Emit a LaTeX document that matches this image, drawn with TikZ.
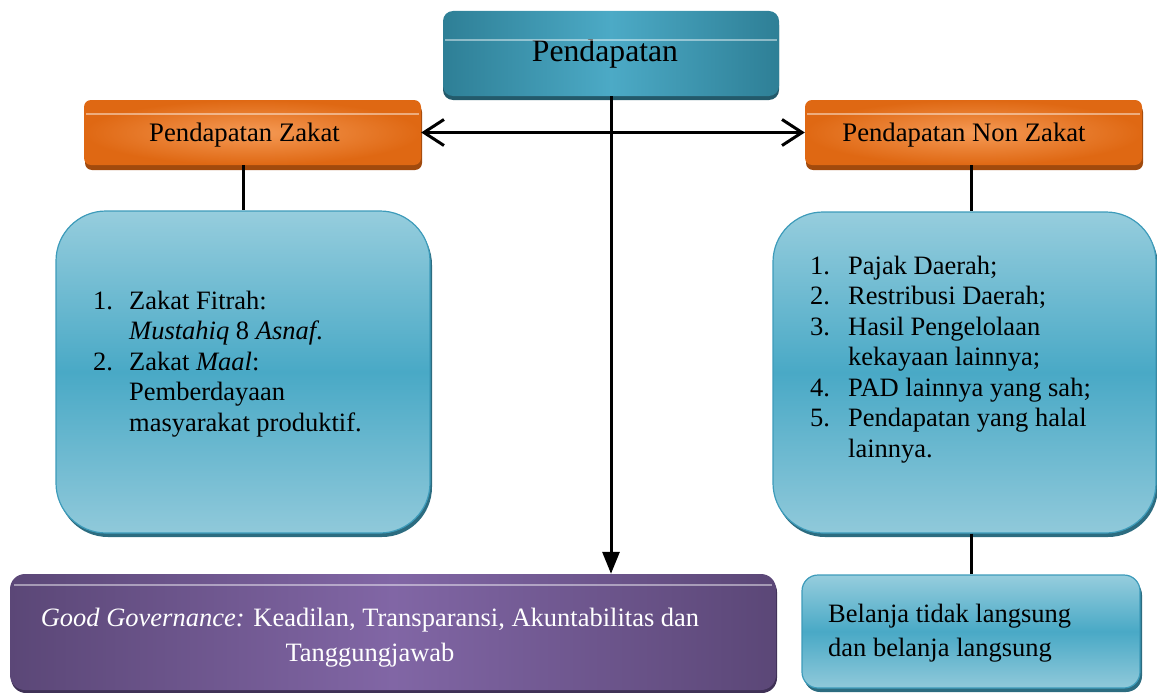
\documentclass[tikz,border=0pt]{standalone}
\usepackage{fontspec}
\setmainfont{Liberation Serif}
\usetikzlibrary{arrows.meta,shadows}
\definecolor{tealD}{HTML}{2E7F96}
\definecolor{tealL}{HTML}{4CAAC6}
\definecolor{tealS}{HTML}{235A6B}
\definecolor{orD}{HTML}{DF6813}
\definecolor{orL}{HTML}{F59A55}
\definecolor{orS}{HTML}{A14A0D}
\definecolor{lbT}{HTML}{96CDDD}
\definecolor{lbM}{HTML}{49A9C6}
\definecolor{lbB}{HTML}{90C9DA}
\definecolor{lbE}{HTML}{3D9BBA}
\definecolor{lbS}{HTML}{2C6C80}
\definecolor{puD}{HTML}{5B4777}
\definecolor{puL}{HTML}{8166A5}
\definecolor{puS}{HTML}{3F3156}
\tikzset{
  conn/.style={line width=3pt, black},
  boxbase/.style={rectangle, inner sep=0pt, draw=none},
  tealbox/.style={boxbase, rounded corners=10pt, left color=tealD, right color=tealD, middle color=tealL,
     general shadow={fill=tealS, shadow yshift=-4pt}, font=\fontsize{31.7}{36}\selectfont},
  orbox/.style={boxbase, rounded corners=7pt, inner color=orL, outer color=orD, text depth=0pt,
     general shadow={fill=orS, shadow yshift=-5pt, shadow xshift=1pt}, font=\fontsize{26.7}{30}\selectfont},
  lbbox/.style={boxbase, draw=lbE, line width=1.2pt, top color=lbT, bottom color=lbB, middle color=lbM,
     general shadow={fill=lbS, shadow yshift=-4pt, shadow xshift=2pt}},
  pubox/.style={boxbase, rounded corners=15pt, left color=puD, right color=puD, middle color=puL,
     general shadow={fill=puS, shadow yshift=-3pt, shadow xshift=1pt}},
  gloss/.style={white, opacity=.45, line width=1.4pt},
  listtext/.style={inner sep=0pt, font=\fontsize{26.5}{30.5}\selectfont},
}
\begin{document}
\begin{tikzpicture}[x=1pt,y=-1pt]
\useasboundingbox (0,0) rectangle (1157,693);
% boxes
\node[tealbox, minimum width=336pt, minimum height=85pt] (top) at (611,53.5) {Pendapatan\hspace*{12pt}};
\draw[gloss] (445,40) -- (777,40);
\node[orbox, minimum width=337pt, minimum height=65pt] (zl) at (252.5,132.5) {Pendapatan Zakat\hspace*{16pt}};
\draw[gloss] (86,114) -- (419,114);
\node[orbox, minimum width=337pt, minimum height=65pt] (znl) at (973.5,132.5) {Pendapatan Non Zakat\hspace*{19pt}};
\draw[gloss] (807,114) -- (1140,114);
\node[lbbox, rounded corners=50pt, minimum width=374pt, minimum height=322pt] (lbig) at (243,372) {};
\node[lbbox, rounded corners=50pt, minimum width=383pt, minimum height=321pt] (rbig) at (964.5,372.5) {};
\node[lbbox, rounded corners=16pt, minimum width=338pt, minimum height=113pt] (br) at (971,631.5) {};
\node[pubox, minimum width=766pt, minimum height=116pt] (gg) at (393,632) {};
\draw[gloss] (14,585) -- (772,585);
% texts
\node[listtext, anchor=base west] (zlist) at (93,309) {\begin{tabular}[t]{@{}p{36pt}@{}l@{}}
1.&Zakat Fitrah:\\
  &\textit{Mustahiq} 8 \textit{Asnaf}.\\
2.&Zakat \textit{Maal}:\\
  &Pemberdayaan\\
  &masyarakat produktif.\end{tabular}};
\node[listtext, anchor=base west] (nzlist) at (810,274) {\begin{tabular}[t]{@{}p{38pt}@{}l@{}}
1.&Pajak Daerah;\\
2.&Restribusi Daerah;\\
3.&Hasil Pengelolaan\\
  &kekayaan lainnya;\\
4.&PAD lainnya yang sah;\\
5.&Pendapatan yang halal\\
  &lainnya.\end{tabular}};
\node[inner sep=0pt, anchor=base west, font=\fontsize{26.5}{34}\selectfont] (brtext) at (828,622) {\begin{tabular}[t]{@{}l@{}}
Belanja tidak langsung\\ dan belanja langsung\end{tabular}};
\node[inner sep=0pt, anchor=base, text=white, font=\fontsize{26.5}{35}\selectfont] (ggtext) at (370,626) {\begin{tabular}[t]{@{}c@{}}
\textit{Good Governance:} Keadilan, Transparansi, Akuntabilitas dan\\ Tanggungjawab\end{tabular}};
% connectors
\draw[conn, {Straight Barb[length=20pt,width=26pt]}-{Straight Barb[length=20pt,width=26pt]}] (zl.east) -- (znl.west);
\draw[conn, -{Triangle[length=22pt,width=17pt]}] (top.south) -- (top.south |- gg.north);
\draw[conn] (lbig.north |- zl.south) -- (lbig.north);
\draw[conn] (br.north |- znl.south) -- (br.north |- rbig.north);
\draw[conn] (br.north |- rbig.south) -- (br.north);
\end{tikzpicture}
\end{document}
